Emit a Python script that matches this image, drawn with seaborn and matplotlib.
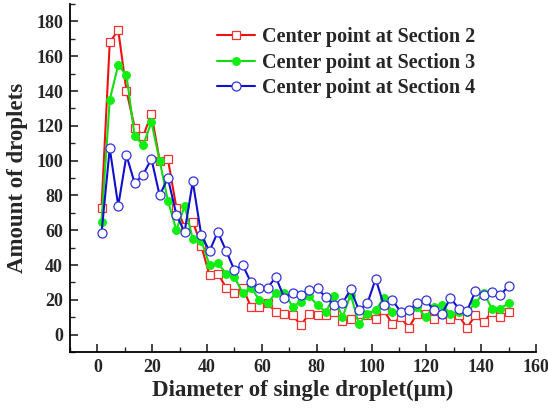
import numpy as np
import pandas as pd
import matplotlib
matplotlib.use("Agg")
import matplotlib.pyplot as plt
import seaborn as sns
from matplotlib.ticker import MultipleLocator

diameter = [1.5, 4.5, 7.6, 10.6, 13.6, 16.7, 19.7, 22.7, 25.7, 28.8,
            31.8, 34.8, 37.9, 40.9, 43.9, 47.0, 50.0, 53.0, 56.0, 59.1,
            62.1, 65.1, 68.2, 71.2, 74.2, 77.3, 80.3, 83.3, 86.3, 89.4,
            92.4, 95.4, 98.5, 101.5, 104.5, 107.6, 110.6, 113.6, 116.6, 119.7,
            122.7, 125.7, 128.8, 131.8, 134.8, 137.9, 140.9, 143.9, 146.9, 150.0]

section2 = [73, 168, 175, 140, 119, 114, 127, 100, 101, 73,
            62, 65, 51, 34, 35, 27, 24, 27, 16, 16,
            18, 13, 12, 11, 5.5, 12, 11, 11, 13, 8,
            9, 12, 11, 9, 14, 6, 10, 4, 12, 12,
            9, 12, 9, 11, 4, 11, 7, 13, 10, 13]

section3 = [65, 135, 155, 149, 114, 109, 122, 100, 77, 60,
            74, 55, 54, 40, 41, 35, 33, 24, 27, 20,
            18, 24, 24, 16, 19, 22, 17, 13, 22, 10,
            23, 6, 12, 14, 21, 13, 13, 14, 16, 10,
            16, 17, 12, 13, 13, 18, 24, 15, 15, 18]

section4 = [58.5, 107, 74, 103, 87, 92, 101, 80, 90, 69,
            59, 88, 57, 48, 59, 48, 37, 40, 30, 27,
            27, 33, 21, 24, 23, 25.5, 26.5, 21.5, 17, 18,
            26, 14, 18, 32, 17, 20, 13, 14, 18, 20,
            14, 12, 21, 15, 13.5, 25, 22.5, 24.5, 22.5, 28]

labels = ["Center point at Section 2", "Center point at Section 3", "Center point at Section 4"]

sns.set_style("ticks")
plt.rcParams['font.family'] = ['Liberation Serif', 'DejaVu Serif']
plt.rcParams['font.weight'] = 'bold'

W, H = 548, 408
fig = plt.figure(figsize=(W/100, H/100), dpi=100)
ax = fig.add_axes([70/W, 1 - 352/H, (536-70)/W, (352-4)/H])

styles = [
    dict(color="#ee1111", marker="s", markerfacecolor="white", markeredgecolor="#ee3333", markersize=5.5, markeredgewidth=0.9),
    dict(color="#11dd11", marker="o", markerfacecolor="#11ee11", markeredgecolor="#11ee11", markersize=5.5, markeredgewidth=0.9),
    dict(color="#1111cc", marker="o", markerfacecolor="white", markeredgecolor="#3333dd", markersize=6.5, markeredgewidth=0.9),
]
for vals, lab, st in zip([section2, section3, section4], labels, styles):
    df = pd.DataFrame({"x": diameter, "y": vals})
    sns.lineplot(data=df, x="x", y="y", ax=ax, label=lab, linewidth=1.5, **st)

ax.set_xlim(-10, 160)
ax.set_ylim(-10, 190)
ax.xaxis.set_major_locator(MultipleLocator(20))
ax.xaxis.set_minor_locator(MultipleLocator(10))
ax.set_yticks(np.arange(0, 181, 20))
ax.yaxis.set_minor_locator(MultipleLocator(10))
ax.tick_params(axis='both', which='major', direction='in', length=6, width=1.2, labelsize=13)
ax.tick_params(axis='both', which='minor', direction='in', length=3.5, width=1.0)
ax.tick_params(axis='x', which='major', pad=5)
ax.tick_params(axis='y', which='major', pad=5)
for lbl in ax.get_xticklabels() + ax.get_yticklabels():
    lbl.set_fontweight('bold')
sns.despine(ax=ax)
for s in ['left', 'bottom']:
    ax.spines[s].set_linewidth(1.3)
    ax.spines[s].set_color('black')

ax.set_xlabel("Diameter of single droplet(μm)", fontsize=16.5, fontweight='bold', labelpad=3)
ax.set_ylabel("Amount of droplets", fontsize=16.5, fontweight='bold', labelpad=6)

leg = ax.legend(loc='upper right', bbox_to_anchor=(0.905, 0.98), frameon=False,
                prop={'size': 14.5, 'weight': 'bold'}, handlelength=1.9,
                handletextpad=0.35, labelspacing=0.28, borderaxespad=0.4)

fig.savefig("out.png", dpi=100)
